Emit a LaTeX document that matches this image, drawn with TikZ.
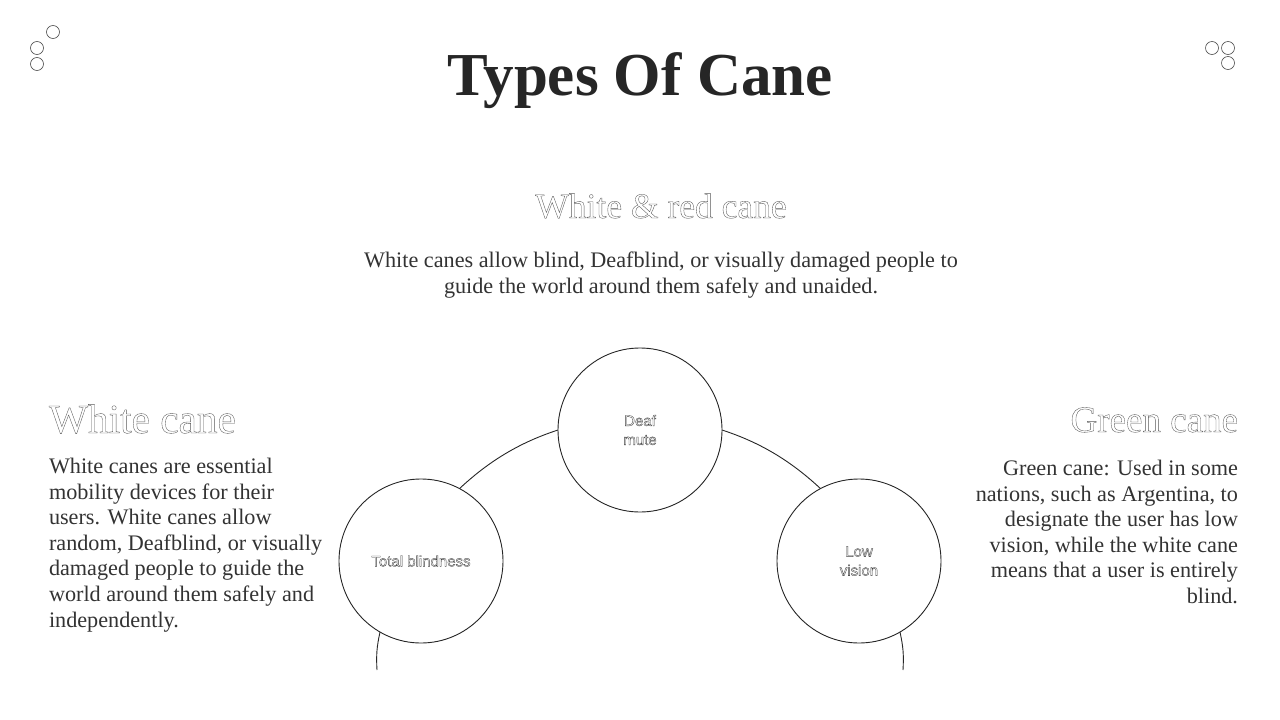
\documentclass[tikz,border=0pt]{standalone}
\usepackage{fontspec}
\setmainfont{Liberation Serif}
\setsansfont{Liberation Sans}
\usepackage{tikz}
\usetikzlibrary{positioning}

% outlined (hollow) glyphs
\newcommand{\hollow}[1]{\special{pdf:literal direct 1 Tr 0.35 w}#1\special{pdf:literal direct 0 Tr}}

\begin{document}
\begin{tikzpicture}[x=1pt, y=-1pt,
    every node/.style={inner sep=0pt, outer sep=0pt},
    dot/.style={circle, draw=black!70, line width=0.6pt, minimum size=13pt},
    ring/.style={circle, draw=black!85, fill=white, line width=0.9pt, minimum size=164pt,
      align=center, text=black!75, font=\sffamily\fontsize{15}{19}\selectfont},
    link/.style={draw=black!85, line width=0.9pt},
    head/.style={text=black!65},
    body/.style={text=black!80, font=\fontsize{22.2}{25.6}\selectfont}]
    \fill[white] (0,0) rectangle (1280,720);
    \useasboundingbox (0,0) rectangle (1280,720);

    % corner dots
    \foreach \n/\x/\y in {dl1/53/32, dl2/37/48, dl3/37/64, dr1/1212/48, dr2/1228/48, dr3/1228/63}
      \node[dot] (\n) at (\x,\y) {};

    % title
    \node[anchor=base, text=black!85, font=\bfseries\fontsize{61}{66}\selectfont] (title) at (640,95) {Types Of Cane};

    % white & red cane
    \node[head, anchor=base, font=\fontsize{35.5}{40}\selectfont] (hwr) at (661,218) {\hollow{White \& red cane}};
    \node[body, anchor=north, align=center] (twr) at (661,252)
      {White canes allow blind, Deafblind, or visually damaged people to\\
       guide the world around them safely and unaided.};

    % white cane
    \node[head, anchor=base west, font=\fontsize{41.3}{46}\selectfont] (hw) at (49,433) {\hollow{White cane}};
    \node[body, anchor=north west, align=left] (tw) at (49,458)
      {White canes are essential\\ mobility devices for their\\ users. White canes allow\\
       random, Deafblind, or visually\\ damaged people to guide the\\
       world around them safely and\\ independently.};

    % green cane
    \node[head, anchor=base east, font=\fontsize{37}{42}\selectfont] (hg) at (1238,432) {\hollow{Green cane}};
    \node[body, anchor=north east, align=right] (tg) at (1238,460)
      {Green cane: Used in some\\ nations, such as Argentina, to\\ designate the user has low\\
       vision, while the white cane\\ means that a user is entirely\\ blind.};

    % rings
    \node[ring] (dm) at (640,430) {\hollow{Deaf}\\ \hollow{mute}};
    \node[ring] (tb) at (421,561) {\hollow{Total blindness}};
    \node[ring] (lv) at (859,561) {\hollow{Low}\\ \hollow{vision}};
    \coordinate (tbend) at (377,670);
    \coordinate (lvend) at (903,670);

    \draw[link] (tb.62) to[out=43, in=198, looseness=0.9] (dm.180);
    \draw[link] (dm.0) to[out=-18, in=137, looseness=0.9] (lv.118);
    \draw[link] (tb) to[bend right=8] (tbend);
    \draw[link] (lv) to[bend left=8] (lvend);
\end{tikzpicture}
\end{document}
